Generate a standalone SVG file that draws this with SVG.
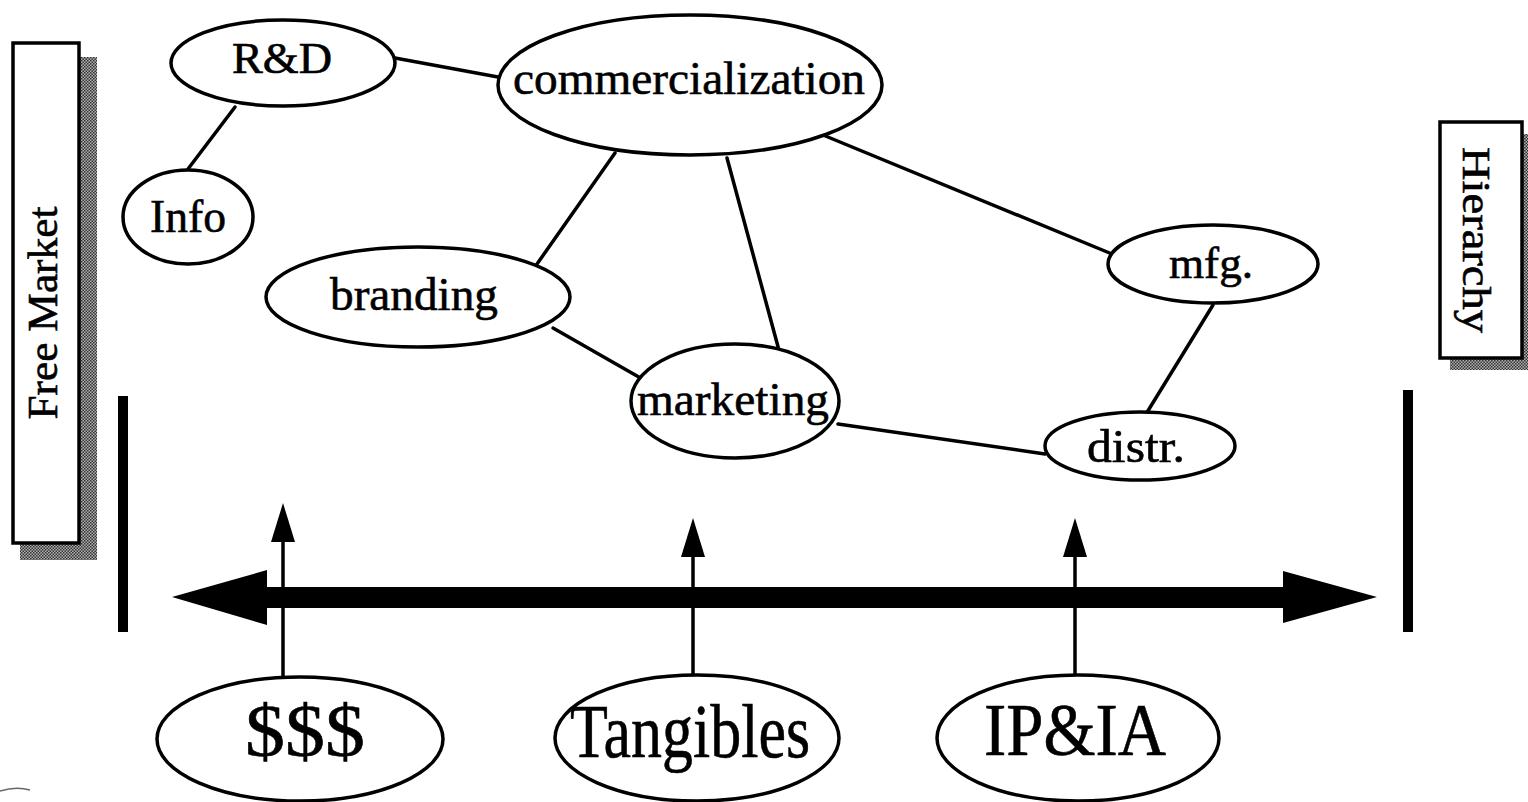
<svg xmlns="http://www.w3.org/2000/svg" width="1528" height="802" viewBox="0 0 1528 802">
  <style>
    .node ellipse { fill: #fff; stroke: #000; stroke-width: 3.5; }
    .lbl { font-family: "Liberation Serif", "Times New Roman", serif; fill: #000; stroke: #000; stroke-width: 0.6; text-anchor: middle; }
    .edge { stroke: #000; stroke-width: 3.5; fill: none; stroke-linecap: round; }
    .panel { fill: #fff; stroke: #000; stroke-width: 3.5; }
  </style>
  <defs>
    <pattern id="dither" width="3" height="3" patternUnits="userSpaceOnUse">
      <rect width="3" height="3" fill="#b0b0b0"/>
      <rect width="1.5" height="1.5" fill="#333"/>
      <rect x="1.5" y="1.5" width="1.5" height="1.5" fill="#333"/>
    </pattern>
  </defs>
  <rect width="1528" height="802" fill="#fff"/>

  <!-- side panels -->
  <g id="free-market">
    <rect x="20" y="57" width="77" height="503" fill="url(#dither)"/>
    <rect class="panel" x="13" y="43" width="66" height="500"/>
    <text class="lbl" font-size="42" textLength="213" lengthAdjust="spacingAndGlyphs" transform="translate(57,313) rotate(-90)">Free Market</text>
  </g>
  <g id="hierarchy">
    <rect x="1450" y="134" width="84" height="236" fill="url(#dither)"/>
    <rect class="panel" x="1440" y="122" width="82" height="236"/>
    <text class="lbl" font-size="40" textLength="186" lengthAdjust="spacingAndGlyphs" transform="translate(1463,240) rotate(90)">Hierarchy</text>
  </g>

  <!-- end bars -->
  <g id="bars">
    <rect x="118" y="396" width="10" height="236" fill="#000"/>
    <rect x="1403" y="390" width="10" height="242" fill="#000"/>
  </g>

  <!-- connectors -->
  <g id="connectors">
    <line class="edge" x1="235" y1="107" x2="188" y2="169"/>
    <line class="edge" x1="395" y1="58" x2="498" y2="77"/>
    <line class="edge" x1="615" y1="153" x2="537" y2="264"/>
    <line class="edge" x1="727" y1="158" x2="780" y2="354"/>
    <line class="edge" x1="823" y1="135" x2="1112" y2="254"/>
    <line class="edge" x1="553" y1="328" x2="644" y2="380"/>
    <line class="edge" x1="838" y1="424" x2="1045" y2="454"/>
    <line class="edge" x1="1213" y1="305" x2="1146" y2="414"/>

    <!-- spectrum arrow -->
    <polygon points="172,597 267,570 267,587 1283,587 1283,571 1377,597 1283,623 1283,608 267,608 267,625" fill="#000"/>

    <!-- pointers from the bottom nodes -->
    <line class="edge" x1="283" y1="540" x2="283" y2="693"/>
    <polygon points="283,503 271,542 295,542" fill="#000"/>
    <line class="edge" x1="693" y1="555" x2="693" y2="676"/>
    <polygon points="693,518 681,557 705,557" fill="#000"/>
    <line class="edge" x1="1075" y1="555" x2="1075" y2="676"/>
    <polygon points="1075,518 1063,557 1087,557" fill="#000"/>
  </g>

  <!-- nodes -->
  <g id="rnd" class="node">
    <ellipse cx="283" cy="63" rx="112" ry="43"/>
    <text class="lbl" x="282" y="73" font-size="44" textLength="100" lengthAdjust="spacingAndGlyphs">R&amp;D</text>
  </g>
  <g id="commercialization" class="node">
    <ellipse cx="690" cy="85" rx="192" ry="70"/>
    <text class="lbl" x="689" y="94" font-size="47" textLength="352" lengthAdjust="spacingAndGlyphs">commercialization</text>
  </g>
  <g id="info" class="node">
    <ellipse cx="188" cy="217" rx="65" ry="47"/>
    <text class="lbl" x="188" y="232" font-size="47" textLength="76" lengthAdjust="spacingAndGlyphs">Info</text>
  </g>
  <g id="branding" class="node">
    <ellipse cx="418" cy="297" rx="152" ry="50"/>
    <text class="lbl" x="414" y="310" font-size="46" textLength="168" lengthAdjust="spacingAndGlyphs">branding</text>
  </g>
  <g id="mfg" class="node">
    <ellipse cx="1213" cy="264" rx="105" ry="39"/>
    <text class="lbl" x="1211" y="278" font-size="45" textLength="84" lengthAdjust="spacingAndGlyphs">mfg.</text>
  </g>
  <g id="marketing" class="node">
    <ellipse cx="735" cy="401" rx="104" ry="57"/>
    <text class="lbl" x="733" y="415" font-size="47" textLength="192" lengthAdjust="spacingAndGlyphs">marketing</text>
  </g>
  <g id="distr" class="node">
    <ellipse cx="1140" cy="446" rx="95" ry="34"/>
    <text class="lbl" x="1136" y="462" font-size="47" textLength="98" lengthAdjust="spacingAndGlyphs">distr.</text>
  </g>

  <g id="money" class="node">
    <ellipse cx="300" cy="739" rx="143" ry="62"/>
    <text class="lbl" x="305" y="756" font-size="74" textLength="120" lengthAdjust="spacingAndGlyphs">$$$</text>
  </g>
  <g id="tangibles" class="node">
    <ellipse cx="697" cy="738" rx="142" ry="63"/>
    <text class="lbl" x="690" y="757" font-size="76" textLength="240" lengthAdjust="spacingAndGlyphs">Tangibles</text>
  </g>
  <g id="ipia" class="node">
    <ellipse cx="1078" cy="738" rx="141" ry="63"/>
    <text class="lbl" x="1075" y="755" font-size="74" textLength="182" lengthAdjust="spacingAndGlyphs">IP&amp;IA</text>
  </g>

  <!-- edge of a shape cut off at the lower left -->
  <path d="M0,791 Q16,786 30,790" stroke="#666" stroke-width="1.5" fill="none"/>
</svg>
